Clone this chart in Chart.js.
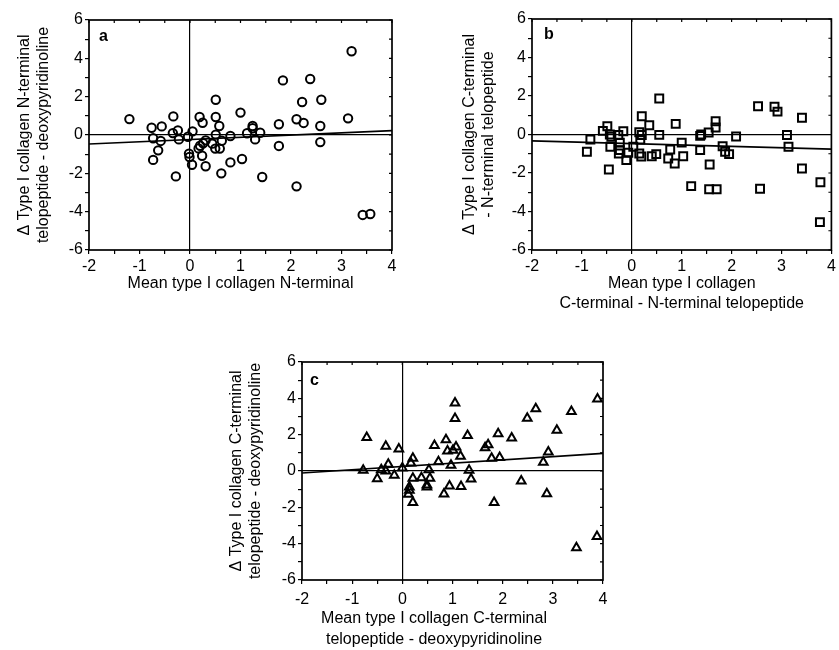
<!DOCTYPE html>
<html>
<head>
<meta charset="utf-8">
<script src="https://cdn.jsdelivr.net/npm/chart.js@4.4.0/dist/chart.umd.min.js"></script>
<style>
    body { margin: 0; background: #fff; }
    #wrap { position: relative; width: 839px; height: 650px; }
    canvas { position: absolute; }
</style>
</head>
<body>
<div id="wrap">
    <canvas id="chartA" width="420" height="300" style="left:0px;top:0px"></canvas>
    <canvas id="chartB" width="399" height="320" style="left:440px;top:0px"></canvas>
    <canvas id="chartC" width="448" height="320" style="left:210px;top:330px"></canvas>
</div>
<script>
// Panel a: N-terminal telopeptide vs deoxypyridinoline
const aMeanX = [-1.20, -0.76, -0.56, -0.73, -0.58, -0.63, -0.73, -0.33, -0.34, -0.24, -0.22, -0.28, -0.04, 0.05, -0.02, -0.01, 0.04, 0.19, 0.25, 0.20, 0.17, 0.24, 0.31, 0.26, 0.31, 0.51, 0.51, 0.58, 0.51, 0.44, 0.50, 0.59, 0.63, 0.62, 0.80, 0.80, 1.00, 1.03, 1.13, 1.24, 1.24, 1.29, 1.39, 1.43, 1.76, 1.76, 1.84, 2.11, 2.25, 2.22, 2.11, 2.38, 2.60, 2.58, 2.58, 3.13, 3.20, 3.42, 3.57];
const aDiffY = [0.83, 0.38, 0.45, -0.17, -0.31, -0.80, -1.30, 0.97, 0.10, 0.24, -0.23, -2.16, -0.09, 0.19, -0.97, -1.15, -1.55, 0.94, 0.64, -0.56, -0.70, -1.08, -1.63, -0.43, -0.28, 1.84, 0.94, 0.47, 0.02, -0.45, -0.71, -0.71, -0.30, -2.00, -0.05, -1.43, 1.17, -1.25, 0.09, 0.47, 0.35, -0.23, 0.12, -2.19, 0.56, -0.57, 2.85, 0.82, 0.63, 1.72, -2.68, 2.92, 1.84, 0.47, -0.37, 0.87, 4.37, -4.17, -4.12];

// Panel b: C-terminal vs N-terminal telopeptide
const bMeanX = [-0.90, -0.83, -0.58, -0.49, -0.44, -0.41, -0.43, -0.46, -0.27, -0.24, -0.24, -0.26, -0.17, -0.11, -0.07, 0.03, 0.15, 0.20, 0.20, 0.17, 0.15, 0.19, 0.35, 0.40, 0.49, 0.55, 0.55, 0.77, 0.73, 0.88, 0.86, 1.00, 1.03, 1.19, 1.37, 1.39, 1.37, 1.54, 1.56, 1.55, 1.70, 1.68, 1.68, 1.82, 1.87, 1.95, 2.09, 2.53, 2.57, 2.86, 2.92, 3.11, 3.14, 3.41, 3.41, 3.78, 3.77];
const bDiffY = [-0.90, -0.26, 0.19, 0.43, 0.00, -0.12, -0.64, -1.82, -0.03, -0.42, -0.81, -0.99, 0.17, -1.33, -0.95, -0.64, 0.12, 0.95, -0.03, -0.26, -0.99, -1.14, 0.48, -1.13, -1.02, 1.87, -0.02, -0.78, -1.25, 0.55, -1.51, -0.42, -1.13, -2.68, -0.07, 0.00, -0.81, 0.10, -1.56, -2.84, -2.84, 0.69, 0.36, -0.61, -0.90, -1.02, -0.10, 1.47, -2.82, 1.44, 1.19, -0.03, -0.64, 0.87, -1.77, -2.48, -4.55];

// Panel c: C-terminal telopeptide vs deoxypyridinoline
const cMeanX = [-0.71, -0.78, -0.33, -0.50, -0.42, -0.28, -0.33, -0.16, -0.07, 0.00, 0.21, 0.17, 0.21, 0.14, 0.14, 0.12, 0.21, 0.38, 0.49, 0.53, 0.55, 0.49, 0.64, 0.72, 0.83, 0.87, 0.90, 1.01, 1.07, 1.16, 0.97, 0.94, 1.05, 1.05, 1.17, 1.30, 1.33, 1.37, 1.65, 1.71, 1.78, 1.83, 1.91, 1.94, 2.18, 2.37, 2.49, 2.66, 2.81, 2.91, 2.88, 3.08, 3.37, 3.47, 3.89, 3.88];
const cDiffY = [1.85, 0.04, 1.36, -0.42, 0.07, 0.37, 0.00, -0.24, 1.21, 0.16, 0.70, 0.44, -0.40, -0.88, -1.06, -1.28, -1.74, -0.37, -0.77, 0.07, -0.40, -0.88, 1.41, 0.51, -1.26, 1.72, 1.10, 1.14, 1.32, 0.81, 0.31, -0.82, 3.75, 2.89, -0.86, 1.96, 0.04, -0.44, 1.28, 1.45, 0.70, -1.74, 2.05, 0.75, 1.81, -0.55, 2.91, 3.42, 0.48, 1.04, -1.25, 2.25, 3.27, -4.23, 3.97, -3.61];

// regression lines, y at the two ends of the x range
const fitX = [-2, 4];
const aFitY = [-0.47, 0.23];
const bFitY = [-0.33, -0.76];
const cFitY = [-0.11, 0.97];

const INK = '#000';
const FAMILY = '"Liberation Sans", Arial, Helvetica, sans-serif';

const toPoints = (xs, ys) => xs.map((x, i) => ({ x: x, y: ys[i] }));

// box round the plot, inward ticks on top/right, panel letter
const framePlugin = {
    id: 'frame',
    afterDatasetsDraw(chart, args, opts) {
        const { ctx, chartArea: a, scales } = chart;
        ctx.save();
        ctx.strokeStyle = INK;
        ctx.lineWidth = 1.7;
        ctx.strokeRect(a.left, a.top, a.right - a.left, a.bottom - a.top);
        ctx.lineWidth = 1.2;
        ctx.beginPath();
        scales.x.ticks.forEach(t => {
            const px = scales.x.getPixelForValue(t.value);
            ctx.moveTo(px, a.top);
            ctx.lineTo(px, a.top + 3);
        });
        scales.y.ticks.forEach(t => {
            const py = scales.y.getPixelForValue(t.value);
            ctx.moveTo(a.right, py);
            ctx.lineTo(a.right - 3, py);
        });
        ctx.stroke();
        ctx.fillStyle = INK;
        ctx.font = 'bold 16px ' + FAMILY;
        ctx.textBaseline = 'middle';
        ctx.fillText(opts.letter, a.left + opts.dx, a.top + opts.dy);
        ctx.restore();
    }
};

function makePanel(canvasId, cfg) {
    const ctx = document.getElementById(canvasId).getContext('2d');
    const zeroLine = c => (c.tick && c.tick.value === 0 ? INK : 'rgba(0,0,0,0)');
    const scales = {
        x: {
            type: 'linear',
            min: -2,
            max: 4,
            ticks: {
                stepSize: 0.5,
                autoSkip: false,
                maxRotation: 0,
                padding: cfg.xTickPad,
                color: INK,
                font: { size: 16, family: FAMILY },
                callback: v => (Number.isInteger(v) ? String(v) : '')
            },
            grid: { color: zeroLine, lineWidth: 1.2, tickColor: INK, tickLength: 4, tickWidth: 1.2 },
            border: { display: false },
            title: cfg.xTitle || { display: false },
            afterFit: s => { s.height = cfg.xHeight; }
        },
        y: {
            type: 'linear',
            min: -6,
            max: 6,
            ticks: {
                stepSize: 1,
                autoSkip: false,
                padding: 2,
                color: INK,
                font: { size: 16, family: FAMILY },
                callback: v => (v % 2 === 0 ? String(v) : '')
            },
            grid: { color: zeroLine, lineWidth: 1.2, tickColor: INK, tickLength: 4, tickWidth: 1.2 },
            border: { display: false },
            title: {
                display: true,
                text: cfg.yTitle,
                color: INK,
                font: { size: 16, family: FAMILY, lineHeight: 1.2 },
                padding: { top: cfg.yTitlePad, bottom: 0 }
            },
            afterFit: s => { s.width = cfg.yWidth; }
        }
    };
    // empty right-hand axis just to reserve space (keeps a full-width title centred on the canvas)
    if (cfg.rightGap) {
        scales.yGap = {
            type: 'linear', position: 'right', min: -6, max: 6,
            ticks: { display: false }, grid: { display: false }, border: { display: false },
            afterFit: s => { s.width = cfg.rightGap; }
        };
    }
    return new Chart(ctx, {
        type: 'scatter',
        data: {
            datasets: [
                {
                    data: toPoints(cfg.xs, cfg.ys),
                    pointStyle: cfg.marker,
                    pointRadius: cfg.radius,
                    pointBorderWidth: 2,
                    pointBorderColor: INK,
                    pointBackgroundColor: 'rgba(0,0,0,0)'
                },
                {
                    data: toPoints(fitX, cfg.fit),
                    showLine: true,
                    pointRadius: 0,
                    borderColor: INK,
                    borderWidth: 1.7
                }
            ]
        },
        options: {
            responsive: false,
            animation: false,
            devicePixelRatio: 1,
            layout: { padding: cfg.padding },
            plugins: {
                legend: { display: false },
                tooltip: { enabled: false },
                title: cfg.bottomTitle || { display: false },
                frame: cfg.letter
            },
            scales: scales
        },
        plugins: [framePlugin]
    });
}

makePanel('chartA', {
    xs: aMeanX, ys: aDiffY, fit: aFitY,
    marker: 'circle', radius: 4.2,
    padding: { left: 0, top: 20, right: 28, bottom: 0 },
    yWidth: 89, xHeight: 50, xTickPad: 3, yTitlePad: 15,
    yTitle: ['\u0394 Type I collagen N-terminal', 'telopeptide - deoxypyridinoline'],
    xTitle: {
        display: true, text: 'Mean type I collagen N-terminal', color: INK,
        font: { size: 16, family: FAMILY, lineHeight: 1.25 }, padding: { top: 0, bottom: 6 }
    },
    letter: { letter: 'a', dx: 10, dy: 17 }
});

makePanel('chartB', {
    xs: bMeanX, ys: bDiffY, fit: bFitY,
    marker: 'rect', radius: 5.6,
    padding: { left: 0, top: 19, right: 5, bottom: 0 },
    yWidth: 92, xHeight: 70, xTickPad: 3, yTitlePad: 20,
    yTitle: ['\u0394 Type I collagen C-terminal', '- N-terminal telopeptide'],
    xTitle: {
        display: true, text: ['Mean type I collagen', 'C-terminal - N-terminal telopeptide'], color: INK,
        font: { size: 16, family: FAMILY, lineHeight: 1.25 }, padding: { top: 0, bottom: 6 }
    },
    letter: { letter: 'b', dx: 12, dy: 16 }
});

makePanel('chartC', {
    xs: cMeanX, ys: cDiffY, fit: cFitY,
    marker: 'triangle', radius: 5,
    padding: { left: 0, top: 32, right: 0, bottom: 0 },
    rightGap: 55,
    yWidth: 92, xHeight: 28.4, xTickPad: 6, yTitlePad: 17,
    yTitle: ['\u0394 Type I collagen C-terminal', 'telopeptide - deoxypyridinoline'],
    bottomTitle: {
        display: true, position: 'bottom', fullSize: true,
        text: ['Mean type I collagen C-terminal', 'telopeptide - deoxypyridinoline'], color: INK,
        font: { size: 16, family: FAMILY, weight: 'normal', lineHeight: 1.3 }, padding: { top: 0, bottom: 0 }
    },
    letter: { letter: 'c', dx: 8, dy: 19 }
});
</script>
</body>
</html>
